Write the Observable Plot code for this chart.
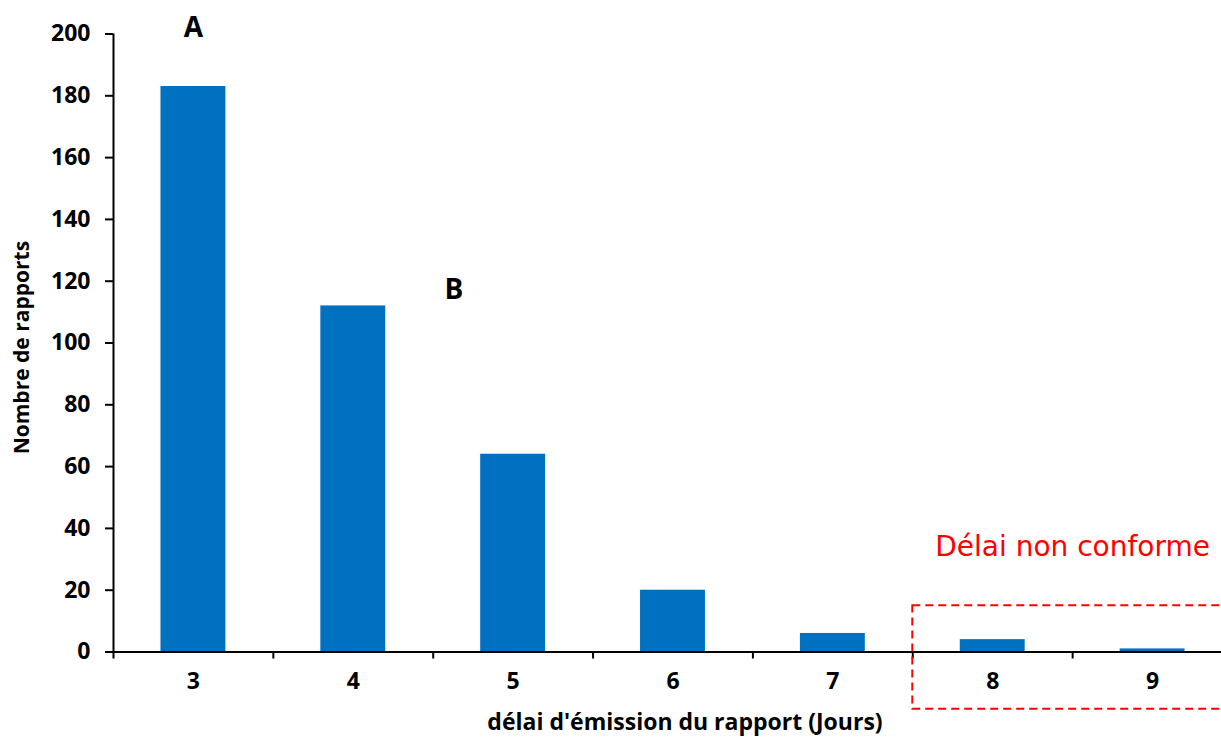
<!DOCTYPE html>
<html>
<head>
<meta charset="utf-8">
<script src="https://cdn.jsdelivr.net/npm/d3@7"></script>
<script src="https://cdn.jsdelivr.net/npm/@observablehq/plot@0.6"></script>
<style>
  html, body { margin: 0; padding: 0; background: #fff; overflow: hidden; }
  #chart svg { display: block; }
</style>
</head>
<body>
<div id="chart"></div>
<script>
// Report issue delay (days) and number of reports
const days = [3, 4, 5, 6, 7, 8, 9];
const reports = [183, 112, 64, 20, 6, 4, 1];
const yTicks = [0, 20, 40, 60, 80, 100, 120, 140, 160, 180, 200];

// Letter annotations placed in data space
const noteLabels = ["A", "B"];
const noteX = [3, 4.63];
const noteY = [202, 117];

// Non-compliant zone: starts at the boundary before day 8
const zoneLabel = "Délai non conforme";
const zoneStart = 7.5;
const zoneTop = 15;
const zoneBottom = -18.5;
const zoneLabelY = 34;

const data = days.map((d, i) => ({day: d, count: reports[i]}));
const notes = noteLabels.map((t, i) => ({t, x: noteX[i], y: noteY[i]}));
const bounds = d3.range(days[0] - 0.5, days[days.length - 1] + 1, 1);
const halfBar = 0.203;

const blue = "#0070C0";
const red = "#FF0000";
const boldFont = "'Open Sans', sans-serif";

const plot = Plot.plot({
  width: 1221,
  height: 742,
  marginLeft: 113,
  marginRight: 0,
  marginTop: 33.5,
  marginBottom: 90.5,
  style: {background: "#fff", overflow: "visible"},
  x: {type: "linear", domain: [days[0] - 0.5, days[days.length - 1] + 0.5], range: [113, 1232]},
  y: {domain: [0, 200]},
  marks: [
    Plot.rectY(data, {
      x1: d => d.day - halfBar,
      x2: d => d.day + halfBar,
      y: "count",
      fill: blue
    }),
    // axis lines
    Plot.ruleX([bounds[0]], {y1: 0, y2: 200, stroke: "#000", strokeWidth: 2}),
    Plot.ruleY([0], {stroke: "#000", strokeWidth: 2}),
    // y ticks and labels
    Plot.axisY({
      ticks: yTicks,
      tickSize: 8,
      tickPadding: 15,
      strokeWidth: 2,
      stroke: "#000",
      fill: "#000",
      fontSize: 23,
      fontWeight: "bold",
      fontFamily: boldFont,
      label: null
    }),
    // x boundary ticks
    Plot.axisX({
      ticks: bounds,
      tickSize: 7,
      strokeWidth: 2,
      stroke: "#000",
      tickFormat: () => "",
      label: null
    }),
    // x category labels
    Plot.axisX({
      ticks: days,
      tickSize: 0,
      tickPadding: 21,
      tickFormat: d => String(d),
      fill: "#000",
      fontSize: 23,
      fontWeight: "bold",
      fontFamily: boldFont,
      label: null
    }),
    // axis titles
    Plot.text(["Nombre de rapports"], {
      x: bounds[0],
      y: 98.5,
      rotate: -90,
      textAnchor: "middle",
      dx: -91,
      fontSize: 21,
      fontWeight: "bold",
      fontFamily: boldFont,
      fill: "#000"
    }),
    Plot.text(["délai d'émission du rapport (Jours)"], {
      x: 6,
      frameAnchor: "bottom",
      textAnchor: "middle",
      dx: 12,
      dy: 78,
      fontSize: 23,
      fontWeight: "bold",
      fontFamily: boldFont,
      fill: "#000"
    }),
    // letter annotations
    Plot.text(notes, {
      x: "x", y: "y", text: "t",
      fontSize: 28,
      fontWeight: "bold",
      fontFamily: boldFont,
      fill: "#000"
    }),
    // non-compliant zone
    Plot.rect([{x1: zoneStart, x2: days[days.length - 1] + 0.6, y1: zoneBottom, y2: zoneTop}], {
      x1: "x1", x2: "x2", y1: "y1", y2: "y2",
      fill: "none",
      stroke: red,
      strokeWidth: 2,
      strokeDasharray: "8,5"
    }),
    Plot.text([zoneLabel], {
      x: zoneStart + 1,
      y: zoneLabelY,
      fontSize: 28,
      fontFamily: "'DejaVu Sans', sans-serif",
      fill: red
    })
  ]
});

document.getElementById("chart").appendChild(plot);
</script>
</body>
</html>
